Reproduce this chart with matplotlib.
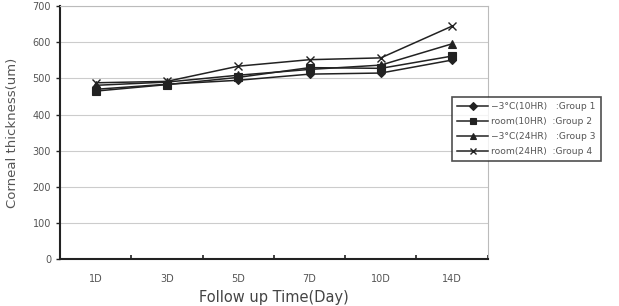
import matplotlib
matplotlib.use("Agg")
import matplotlib.pyplot as plt

categories = ["1D", "3D", "5D", "7D", "10D", "14D"]
group1 = [470, 484, 495, 512, 515, 551]   # -3C 10HR
group2 = [465, 483, 503, 530, 528, 562]   # room 10HR
group3 = [481, 490, 509, 525, 537, 596]   # -3C 24HR
group4 = [488, 492, 534, 552, 557, 645]   # room 24HR
labels = ["\u22123\u00b0C(10HR)   :Group 1",
          "room(10HR)  :Group 2",
          "\u22123\u00b0C(24HR)   :Group 3",
          "room(24HR)  :Group 4"]
yticks = [0, 100, 200, 300, 400, 500, 600, 700]

plt.rcParams['font.family'] = ['DejaVu Sans']
fig = plt.figure(figsize=(6.19, 3.06), dpi=100)
ax = fig.add_axes([0.097, 0.1536, 0.691, 0.826])

x = list(range(len(categories)))
series = [group1, group2, group3, group4]
markers = ['D', 's', '^', 'x']
msizes = [4.5, 5.5, 5.5, 5.5]
lines = []
for s, m, ms, lab in zip(series, markers, msizes, labels):
    l, = ax.plot(x, s, color='#222222', lw=1.1, marker=m, markersize=ms,
                 markeredgewidth=1.0 if m == 'x' else 0.8, label=lab, zorder=3)
    lines.append(l)

ax.set_xlim(-0.5, len(categories) - 0.5)
ax.set_ylim(0, 700)
ax.set_yticks(yticks)
ax.set_yticklabels([str(v) for v in yticks], fontsize=7, color='#555555')
ax.yaxis.grid(True, color='#cccccc', lw=0.8)
ax.set_axisbelow(True)

ax.set_xticks([i - 0.5 for i in range(len(categories) + 1)])
ax.set_xticklabels([])
ax.set_xticks(x, minor=True)
ax.set_xticklabels(categories, minor=True, fontsize=7, color='#555555')
ax.tick_params(axis='x', which='major', direction='in', length=3, width=1.2, color='#222222')
ax.tick_params(axis='x', which='minor', length=0, pad=11)
ax.tick_params(axis='y', direction='out', length=3, width=1, color='#222222')

ax.spines['left'].set_color('#222222')
ax.spines['left'].set_linewidth(1.5)
ax.spines['bottom'].set_color('#222222')
ax.spines['bottom'].set_linewidth(1.5)
ax.spines['top'].set_color('#bbbbbb')
ax.spines['right'].set_color('#bbbbbb')

ax.set_ylabel("Corneal thickness(um)", fontsize=9.5, color='#555555', labelpad=10)
ax.set_xlabel("Follow up Time(Day)", fontsize=10.5, color='#444444', labelpad=4)

leg = fig.legend(handles=lines, loc='upper left', bbox_to_anchor=(452/619, 1 - 97/306),
                 fontsize=6.6, frameon=True, fancybox=False, edgecolor='#222222',
                 handlelength=3.4, borderpad=0.55, labelspacing=0.65, handletextpad=0.3,
                 borderaxespad=0, markerscale=0.8)
leg.get_frame().set_linewidth(1.2)
for t in leg.get_texts():
    t.set_color('#555555')

fig.savefig("out.png", dpi=100)
